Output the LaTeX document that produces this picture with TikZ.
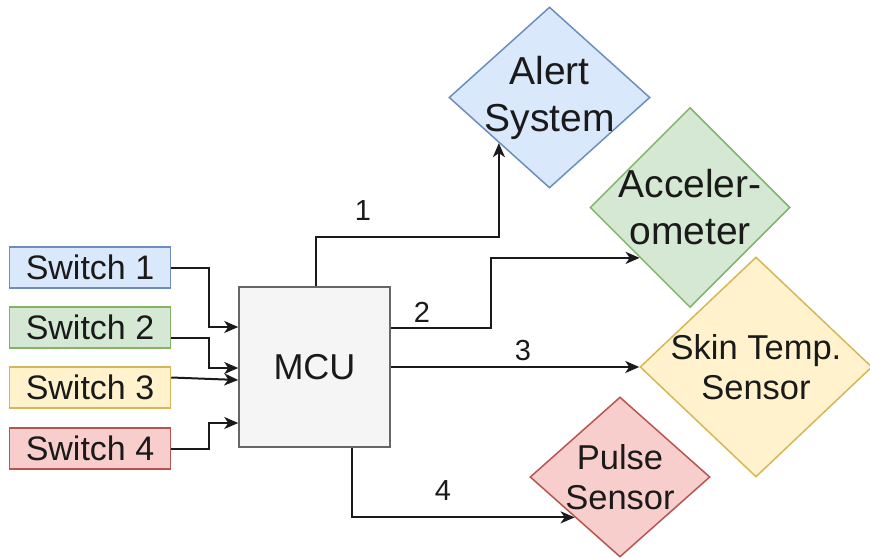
\documentclass[tikz,border=0pt]{standalone}
\usepackage{fontspec}
\setmainfont{Liberation Sans}
\usetikzlibrary{shapes.geometric,arrows.meta,calc}
\definecolor{bfill}{HTML}{DAE8FC}\definecolor{bline}{HTML}{6C8EBF}
\definecolor{gfill}{HTML}{D5E8D4}\definecolor{gline}{HTML}{82B366}
\definecolor{yfill}{HTML}{FFF2CC}\definecolor{yline}{HTML}{D6B656}
\definecolor{rfill}{HTML}{F8CECC}\definecolor{rline}{HTML}{B85450}
\definecolor{mfill}{HTML}{F5F5F5}\definecolor{mline}{HTML}{666666}
\definecolor{txt}{HTML}{1A1A1A}
\tikzset{
  swbox/.style={draw, line width=1.5pt, minimum width=161pt, minimum height=41pt, inner sep=0pt, text=txt, font=\fontsize{34}{40}\selectfont},
  dia/.style={diamond, line width=1.5pt, inner sep=0pt},
  bigtxt/.style={align=center, text=txt, font=\fontsize{39}{47}\selectfont},
  medtxt/.style={align=center, text=txt, font=\fontsize{34.5}{40}\selectfont},
  arr/.style={line width=2pt, draw=txt, -{Stealth[length=14pt,width=12pt,inset=4pt]}},
  num/.style={inner sep=0pt, text=txt, font=\fontsize{29}{34}\selectfont}
}
\begin{document}
\begin{tikzpicture}[x=1pt,y=-1pt]
\useasboundingbox (0,0) rectangle (870,559);
% switches
\node[swbox, fill=bfill, draw=bline] (s1) at (90,267.5) {Switch 1};
\node[swbox, fill=gfill, draw=gline] (s2) at (90,327.5) {Switch 2};
\node[swbox, fill=yfill, draw=yline] (s3) at (90,387.5) {Switch 3};
\node[swbox, fill=rfill, draw=rline] (s4) at (90,448.5) {Switch 4};
% MCU
\node[draw=mline, fill=mfill, line width=1.5pt, minimum width=151pt, minimum height=160pt, inner sep=0pt, text=txt, font=\fontsize{36}{42}\selectfont] (mcu) at (314.5,367) {MCU};
% diamonds
\node[dia, fill=bfill, draw=bline, minimum width=201pt, minimum height=181pt,
      label={[bigtxt]center:{Alert\\System}}] (alert) at (549.5,97.5) {};
\node[dia, fill=gfill, draw=gline, minimum width=200pt, minimum height=200pt,
      label={[bigtxt]center:{Acceler-\\ometer}}] (accel) at (690,207.5) {};
\node[dia, fill=yfill, draw=yline, minimum width=232pt, minimum height=220pt,
      label={[medtxt]center:{Skin Temp.\\Sensor}}] (skin) at (756,367) {};
\node[dia, fill=rfill, draw=rline, minimum width=180pt, minimum height=160pt,
      label={[medtxt]center:{Pulse\\Sensor}}] (pulse) at (620,477) {};
% switch connectors
\draw[arr] (s1.east) -- ++(38,0) |- ([yshift=40pt]mcu.west);
\draw[arr] ([yshift=-10pt]s2.east) -- ++(38,0) |- ([yshift=-1pt]mcu.west);
\draw[arr] ([yshift=10pt]s3.east) -- ([yshift=-13pt]mcu.west);
\draw[arr] (s4.east) -- ++(38,0) |- ([yshift=-56pt]mcu.west);
% outputs
\draw[arr] ([xshift=1.5pt]mcu.north) -- ++(0,-49) -| ($(alert.west)!0.5!(alert.south)$);
\draw[arr] ([yshift=39pt]mcu.east) -- ++(100,0) |- ($(accel.west)!0.5!(accel.south)$);
\draw[arr] (mcu.east) -- (skin.west);
\draw[arr] ([xshift=37.5pt]mcu.south) |- ($(pulse.west)!0.5!(pulse.south)$);
% labels
\node[num] (n1) at (363,211) {1};
\node[num] (n2) at (422,312) {2};
\node[num] (n3) at (523,351) {3};
\node[num] (n4) at (443,491) {4};
\end{tikzpicture}
\end{document}
